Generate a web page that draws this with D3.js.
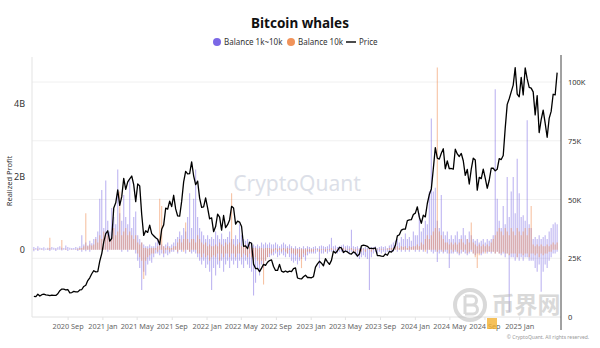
<!DOCTYPE html>
<html><head><meta charset="utf-8">
<script src="https://cdn.jsdelivr.net/npm/d3@7"></script>
<style>body{margin:0;background:#fff} svg{display:block;font-family:"Noto Sans","Open Sans",sans-serif}</style>
</head><body><svg id="c" width="600" height="348"></svg>
<script>
// weekly observations starting Monday 2020-05-04
const startWeek = "2020-05-04";
const chartTitle = "Bitcoin whales";
const seriesNames = ["Balance 1k~10k", "Balance 10k", "Price"];
// BTC price, thousands USD
const price = [
 8.8,8.7,9.7,8.9, 9.5,9.7,9.4,9.3,9.1, 9.3,9.2,9.2,9.9, 11.2,11.9,11.9,11.5,11.7, 10.3,10.4,10.9,10.7, 10.7,11.5,11.7,13.0, 13.5,15.5,16.7,18.4,19.7, 19.2,19.3,23.8,27.0,
 32.0,35.5,36.7,32.3, 33.5,46.4,48.6,54.1, 47.5,51.2,59.0,54.3,57.5, 58.8,60.0,56.3,49.1, 56.6,55.8,43.6,34.7,36.7, 36.0,39.1,35.5,34.6, 33.7,33.1,30.8,37.3, 39.2,46.3,45.9,49.3,47.0, 51.8,46.0,43.0,42.9, 49.2,57.5,62.0,60.9, 61.0,66.0,60.1,56.3,57.8, 50.6,46.7,46.9,50.7,
 46.4,41.8,42.2,36.3,38.5, 43.8,42.5,37.0,43.2, 38.0,39.3,41.3,47.1, 46.4,39.5,40.8,40.4, 38.5,30.1,30.3,29.1,31.8, 31.4,22.5,20.6,20.7, 19.3,20.8,22.4,22.0, 23.3,24.0,24.3,21.5,19.8, 19.8,22.4,19.5,19.1, 19.6,19.1,19.5,19.3,20.6, 20.9,16.6,16.3,16.2, 17.1,17.8,16.8,16.8,
 16.7,17.2,21.2,22.6,23.7, 22.9,21.8,24.8,23.5, 22.4,24.1,28.0,27.2, 28.2,29.6,29.4,27.5, 28.1,27.7,27.0,26.8,27.7, 27.2,25.9,26.8,30.3, 30.6,30.4,30.1,29.2,29.2, 29.1,29.4,26.1,26.1, 25.9,25.8,26.8,26.3, 27.9,27.6,28.5,30.5,34.5, 35.0,37.0,37.4,37.4, 41.0,41.3,41.4,43.6,
 44.2,46.9,42.5,39.9,43.3, 42.6,48.3,52.1,54.5, 63.1,72.1,67.6,67.2, 69.7,71.6,63.1,66.4,63.1, 63.2,62.9,71.4,69.4, 68.3,69.6,66.5,60.3, 62.8,56.6,62.9,67.6,66.8, 54.0,59.4,58.9,62.9, 59.1,54.8,58.2,63.3,63.3, 62.2,62.9,67.4,67.0, 68.7,80.4,90.5,92.9, 95.8,98.7,106.1,94.9,93.7,
 102.0,94.5,106.0,101.3, 97.7,97.4,95.8,86.0, 94.2,78.5,84.0,88.0,82.5, 76.5,84.5,87.5,94.8, 94.5,104.0
];
// realized profit (billions USD), positive and negative parts per week
const bal1k10kGain = [
 0.08,0.05,0.1,0.06,0.05,0.07,0.04,0.06,0.05,0.08,
 0.06,0.05,0.07,0.1,0.06,0.05,0.12,0.08,0.06,0.05,
 0.05,0.08,0.06,0.1,0.4,0.15,0.2,0.12,0.25,0.18,
 0.3,0.35,0.5,1.4,1.64,0.6,1.9,0.8,0.5,1.15,
 0.9,0.7,2.2,1.0,0.8,1.5,0.9,0.7,1.9,0.6,
 0.9,1.05,0.4,0.3,0.2,0.15,0.1,0.1,0.15,0.1,
 0.1,0.2,0.3,0.2,0.15,0.1,0.15,0.2,0.1,0.15,
 0.2,0.3,0.35,0.5,0.4,0.6,0.5,0.9,1.55,0.6,
 1.4,2.2,0.9,0.6,0.5,0.4,0.3,0.4,0.3,0.35,
 0.3,0.5,0.4,0.3,0.45,0.3,0.3,0.35,0.5,0.3,
 0.3,0.4,0.3,0.7,0.4,0.3,0.25,0.3,0.2,0.2,
 0.15,0.1,0.15,0.1,0.2,0.15,0.2,0.15,0.2,0.15,
 0.15,0.2,0.15,0.1,0.15,0.2,0.15,0.1,0.15,0.1,
 0.05,0.1,0.05,0.08,0.05,0.1,0.05,0.1,0.08,0.05,
 0.08,0.1,0.05,0.1,0.12,0.1,0.08,0.1,0.15,0.33,
 0.1,0.12,0.08,0.1,0.12,0.15,0.1,0.12,0.1,0.55,
 0.1,0.08,0.1,0.05,0.08,0.05,0.08,0.05,0.05,0.08,
 0.08,0.1,0.05,0.08,0.1,0.08,0.1,0.05,0.12,0.15,
 0.2,0.25,0.3,0.2,0.35,0.3,0.45,0.3,0.35,0.25,
 0.5,0.4,0.4,1.0,0.5,0.6,0.8,0.7,1.6,3.6,
 1.6,1.7,0.8,0.6,1.5,0.5,0.4,0.5,0.3,0.4,
 0.3,0.4,0.5,0.3,0.4,0.6,0.4,0.3,0.5,0.4,
 0.3,0.25,0.3,0.2,0.25,0.3,0.2,0.3,0.25,0.3,
 0.4,4.4,1.4,0.8,0.6,1.2,0.7,2.0,0.9,1.6,
 2.0,1.0,2.5,1.55,0.9,0.95,0.8,3.55,0.7,0.6,
 0.3,0.35,0.3,0.4,0.3,0.35,0.4,0.3,0.5,0.6,0.7,0.75,0.7
];
const bal1k10kLoss = [
 -0.04,0,-0.03,0,0,-0.02,0,0,-0.03,0,
 0,-0.03,0,0,-0.02,0,0,-0.03,0,0,
 0,0,-0.03,0,-0.05,0,-0.04,0,-0.05,0,
 0,0,0,0,0,0,0,-0.05,0,0,
 0,0,0,0,-0.05,0,0,-0.05,0,0,
 0,-0.1,-0.3,-0.5,-1.1,-0.6,-0.7,-0.4,-0.3,-0.35,
 -0.2,-0.1,-0.1,-0.15,-0.1,-0.2,-0.1,-0.15,-0.1,-0.05,
 -0.05,0,-0.1,0,-0.05,0,-0.1,0,-0.05,-0.1,
 -0.05,-0.1,-0.2,-0.3,-0.4,-0.3,-0.5,-0.4,-0.6,-1.1,
 -0.5,-0.7,-0.4,-0.5,-0.3,-0.6,-0.4,-0.3,-0.5,-0.3,
 -0.4,-0.3,-0.5,-0.3,-0.4,-0.5,-0.3,-0.4,-0.5,-0.6,
 -1.25,-0.9,-0.5,-0.7,-0.4,-0.5,-0.3,-0.2,-0.2,-0.15,
 -0.15,-0.1,-0.2,-0.15,-0.1,-0.15,-0.2,-0.1,-0.2,-0.3,
 -0.35,-0.3,-0.4,-0.3,-0.25,-0.2,-0.3,-0.15,-0.1,-0.1,
 -0.1,-0.1,-0.05,-0.5,-0.1,-0.1,-0.05,-0.1,-0.05,-0.05,
 -0.05,-0.05,-0.1,-0.05,-0.05,-0.1,-0.05,-0.05,-0.1,-0.05,
 -0.1,-0.15,-0.2,-0.25,-0.2,-0.15,-0.2,-0.25,-1.1,-0.2,
 -0.1,-0.05,-0.1,-0.05,-0.1,-0.05,-0.1,-0.05,-0.05,-0.05,
 -0.05,0,-0.05,0,-0.05,0,-0.05,0,-0.05,0,
 0,-0.05,0,-0.05,0,-0.05,0,-0.1,0,-0.05,
 -0.1,-0.05,-0.33,-0.1,-0.05,-0.1,-0.05,-0.1,-0.5,-0.1,
 -0.1,-0.05,-0.1,-0.15,-0.1,-0.05,-0.1,-0.15,-0.1,-0.05,
 -0.1,-0.15,-0.1,-0.1,-0.15,-0.1,-0.05,-0.1,-0.05,-0.1,
 -0.05,-0.1,-0.05,-0.1,-0.15,-0.1,-0.2,-0.1,-1.7,-0.2,
 -0.2,-0.3,-0.2,-0.3,-0.2,-0.3,-0.2,-0.2,-0.3,-0.3,
 -0.3,-0.5,-0.6,-0.4,-1.15,-0.6,-0.4,-0.5,-0.3,-0.2,-0.1,-0.1,-0.05
];
const bal10kGain = [
 0.02,0,0.03,0,0.02,0,0,0.03,0.33,0,
 0,0.02,0,0,0.27,0,0.03,0,0,0.02,
 0,0.02,0.03,0.05,0.05,0.1,1.0,0.1,0.15,0.12,
 0.15,0.3,0.2,0.4,0.3,0.5,0.4,0.4,0.3,0.35,
 0.6,0.4,0.5,1.6,0.4,0.5,0.6,0.4,0.5,0.4,
 0.3,0.4,0.2,0.15,0.2,0.05,0.05,0.03,0.05,0.05,
 0.05,0.05,0.1,1.4,1.2,0.1,0.05,0.1,0.05,0.05,
 0.1,0.1,0.2,0.3,0.2,0.3,0.75,0.3,0.2,0.3,
 0.3,0.2,0.4,0.3,0.2,0.15,0.2,0.1,0.15,0.1,
 0.1,0.15,0.1,0.2,0.15,0.1,0.2,0.15,0.2,1.55,
 0.15,0.1,0.15,0.2,0.1,0.1,0.15,0.05,0.1,0.05,
 0.05,0.05,0.03,0.05,0.05,0.03,0.05,0.05,0.05,0.03,
 0.03,0.05,0.03,0.05,0.03,0.05,0.03,0.05,0.03,0.05,
 0.02,0.03,0.02,0.02,0.03,0.02,0.02,0.03,0.02,0.02,
 0.02,0.02,0.02,0.02,0.02,0.02,0.02,0.02,0.02,0.05,
 0.02,0.03,0.02,0.03,0.02,0.05,0.03,0.02,0.03,0.05,
 0.02,0.02,0.03,0.02,0.02,0.03,0.02,0.02,0.03,0.02,
 0.02,0.03,0.02,0.02,0.03,0.02,0.02,0.03,0.05,0.05,
 0.05,0.08,0.1,0.05,0.1,0.08,0.1,0.05,0.1,0.08,
 0.1,0.1,0.15,0.1,0.2,0.15,0.3,0.4,0.3,0.4,
 0.5,0.6,5.0,0.5,0.4,0.3,0.2,0.2,0.15,0.2,
 0.15,0.2,0.15,0.2,0.3,0.2,0.15,0.3,0.2,0.75,
 0.2,0.15,0.1,0.15,0.1,0.15,0.1,0.15,0.1,0.2,
 0.3,0.4,0.5,0.6,0.5,0.4,0.6,0.5,0.4,0.6,
 0.5,0.4,0.6,0.5,0.4,0.5,0.6,0.4,0.6,1.2,
 0.15,0.1,0.15,0.1,0.15,0.1,0.1,0.15,0.1,0.15,0.2,0.15,0.2
];
const bal10kLoss = [
 0,0,0,0,0,0,0,0,0,0,
 0,0,0,0,0,0,0,0,0,0,
 0,0,0,0,0,0,0,0,0,0,
 0,0,0,0,0,0,0,0,0,0,
 0,0,0,0,0,0,0,0,0,0,
 0,0,-0.1,-0.2,-0.3,-0.8,-0.3,-0.2,-0.15,-0.1,
 -0.1,0,-0.05,0,0,-0.1,0,0,-0.05,0,
 0,0,-0.05,0,0,-0.05,0,0,-0.05,0,
 0,0,-0.1,-0.1,-0.2,-0.1,-0.2,-0.15,-0.3,-0.2,
 -0.15,-0.2,-0.1,-0.3,-0.1,-0.2,-0.1,-0.1,-0.2,-0.1,
 -0.1,-0.2,-0.1,-0.1,-0.2,-0.1,-0.15,-0.2,-0.1,-0.2,
 -0.3,-0.2,-0.3,-0.4,-0.3,-0.95,-0.3,-0.2,-0.1,-0.1,
 -0.05,0,-0.05,0,-0.05,0,-0.05,-0.1,0,-0.1,
 -0.1,-0.15,-0.1,-0.2,-0.5,-0.1,-0.15,-0.05,-0.05,-0.05,
 -0.05,0,0,-0.05,0,0,-0.05,0,0,0,
 0,0,0,0,0,0,0,0,0,0,
 -0.05,-0.05,0,-0.05,-0.05,0,-0.05,0,0,-0.05,
 0,0,0,0,0,0,0,0,0,0,
 0,0,0,0,0,0,0,0,0,0,
 0,0,0,0,0,0,-0.05,0,0,0,
 0,0,-0.05,0,0,-0.05,0,0,-0.1,0,
 -0.05,0,-0.05,-0.1,0,-0.05,0,-0.1,-0.05,0,
 -0.1,-0.2,-0.5,-0.15,-0.1,-0.05,-0.1,-0.05,-0.05,-0.05,
 -0.05,-0.1,-0.05,-0.1,-0.1,-0.05,-0.1,-0.1,-0.15,-0.1,
 -0.1,-0.1,-0.2,-0.1,-0.1,-0.15,-0.1,-0.1,-0.2,-0.1,
 -0.1,-0.15,-0.1,-0.2,-0.1,-0.15,-0.1,-0.1,-0.05,-0.05,0,0,0
];
const leftTicks = [0, 2, 4];
const leftTickLabels = ["0", "2B", "4B"];
const rightTicks = [0, 25, 50, 75, 100];
const rightTickLabels = ["0", "25K", "50K", "75K", "100K"];
const xTickLabels = ["2020 Sep","2021 Jan","2021 May","2021 Sep","2022 Jan","2022 May","2022 Sep",
  "2023 Jan","2023 May","2023 Sep","2024 Jan","2024 May","2024 Sep","2025 Jan"];

(function () {
const svg = d3.select("#c");
const pL = 32, pR = 561, pT = 55, pB = 317;
const parseDay = d3.timeParse("%Y-%m-%d");
const parseMonth = d3.timeParse("%Y %b");
const t0 = parseDay(startWeek);
const dates = price.map((_, i) => d3.timeDay.offset(t0, 7 * i));

const x = d3.scaleTime().domain([parseDay("2020-05-01"), parseDay("2025-05-22")]).range([33, 560]);
const yL = d3.scaleLinear().domain([-1.84, 5.34]).range([pB, pT]);
const yR = d3.scaleLinear().domain([0, 111.5]).range([pB, pT]);

// title & legend
svg.append("text").attr("x", 300).attr("y", 28).attr("text-anchor", "middle")
  .attr("font-size", 13.5).attr("font-weight", 700).attr("fill", "#111").text(chartTitle);
const lg = svg.append("g").attr("font-size", 8).attr("fill", "#333");
lg.append("circle").attr("cx", 217).attr("cy", 42).attr("r", 4).attr("fill", "#7b68e6");
lg.append("text").attr("x", 224).attr("y", 45).text(seriesNames[0]);
lg.append("circle").attr("cx", 291).attr("cy", 42).attr("r", 4).attr("fill", "#f0935a");
lg.append("text").attr("x", 298).attr("y", 45).text(seriesNames[1]);
lg.append("line").attr("x1", 346).attr("x2", 356).attr("y1", 42).attr("y2", 42).attr("stroke", "#111").attr("stroke-width", 1.5);
lg.append("text").attr("x", 359).attr("y", 45).text(seriesNames[2]);

// grid lines (right axis)
svg.append("g").selectAll("line").data(rightTicks).join("line")
  .attr("x1", pL).attr("x2", pR).attr("y1", d => yR(d)).attr("y2", d => yR(d))
  .attr("stroke", d => d === 0 ? "#e2e2e2" : "#f0f0f0").attr("stroke-width", 1);

// left axis line
svg.append("line").attr("x1", pL).attr("x2", pL).attr("y1", pT + 2).attr("y2", pB)
  .attr("stroke", "#e3e3e3");
// x ticks
const xTicks = xTickLabels.map(s => parseMonth(s));
svg.append("g").selectAll("line").data(xTicks).join("line")
  .attr("x1", d => x(d)).attr("x2", d => x(d)).attr("y1", pB).attr("y2", pB + 3).attr("stroke", "#e3e3e3");
svg.append("g").selectAll("text").data(xTickLabels).join("text")
  .attr("x", (d, i) => x(xTicks[i])).attr("y", 329).attr("text-anchor", "middle")
  .attr("font-size", 7.3).attr("fill", "#666").text(d => d);

// watermark
svg.append("text").attr("x", 297).attr("y", 191).attr("text-anchor", "middle")
  .attr("font-size", 21).attr("fill", "#dcdfe8").text("CryptoQuant");

// bars
function bars(vals, color, op) {
  svg.append("g").selectAll("line").data(vals.map((v, i) => [dates[i], v]).filter(d => d[1] !== 0)).join("line")
    .attr("x1", d => x(d[0])).attr("x2", d => x(d[0]))
    .attr("y1", yL(0)).attr("y2", d => yL(d[1]))
    .attr("stroke", color).attr("stroke-width", 1.1).attr("stroke-opacity", op);
}
bars(bal1k10kGain, "#6e5ce0", 0.45);
bars(bal1k10kLoss, "#6e5ce0", 0.45);
bars(bal10kGain, "#f0884a", 0.5);
bars(bal10kLoss, "#f0884a", 0.5);

// price line
svg.append("path").datum(price.map((v, i) => [dates[i], v]))
  .attr("d", d3.line().x(d => x(d[0])).y(d => yR(d[1])))
  .attr("fill", "none").attr("stroke", "#000").attr("stroke-width", 1.3).attr("stroke-linejoin", "round");

// left ticks
svg.append("g").selectAll("text").data(leftTicks).join("text")
  .attr("x", 25).attr("y", d => yL(d) + 3.5).attr("text-anchor", "end")
  .attr("font-size", 9).attr("fill", "#333").text((d, i) => leftTickLabels[i]);
svg.append("text").attr("transform", "translate(12,181) rotate(-90)").attr("text-anchor", "middle")
  .attr("font-size", 7.5).attr("fill", "#333").text("Realized Profit");

// right axis
svg.append("line").attr("x1", pR).attr("x2", pR).attr("y1", pT).attr("y2", 330)
  .attr("stroke", "#444").attr("stroke-width", 1);
svg.append("g").selectAll("text").data(rightTicks).join("text")
  .attr("x", 568).attr("y", d => yR(d) + 3).attr("font-size", 7.5).attr("fill", "#333")
  .text((d, i) => rightTickLabels[i]);

// corner watermark (third-party logo)
const wm = svg.append("g").attr("opacity", 0.5);
wm.append("circle").attr("cx", 470).attr("cy", 305).attr("r", 15).attr("fill", "none").attr("stroke", "#b5b5b5").attr("stroke-width", 4);
wm.append("path").attr("d", "M465,296 V314 M465,296 H472 A4,4 0 0 1 472,305 H465 M465,305 H473 A4.5,4.5 0 0 1 473,314 H465")
  .attr("fill", "none").attr("stroke", "#b5b5b5").attr("stroke-width", 3);
wm.append("text").attr("x", 526).attr("y", 313).attr("text-anchor", "middle")
  .attr("font-size", 23).attr("font-weight", 700).attr("fill", "#b5b5b5").attr("font-family", "Noto Sans CJK SC").text("币界网");
svg.append("rect").attr("x", 487).attr("y", 318).attr("width", 10).attr("height", 11).attr("fill", "#f2b233").attr("opacity", 0.8);
svg.append("text").attr("x", 548).attr("y", 339).attr("text-anchor", "middle").attr("font-size", 5).attr("fill", "#999")
  .text("© CryptoQuant. All rights reserved.");
})();
</script></body></html>
